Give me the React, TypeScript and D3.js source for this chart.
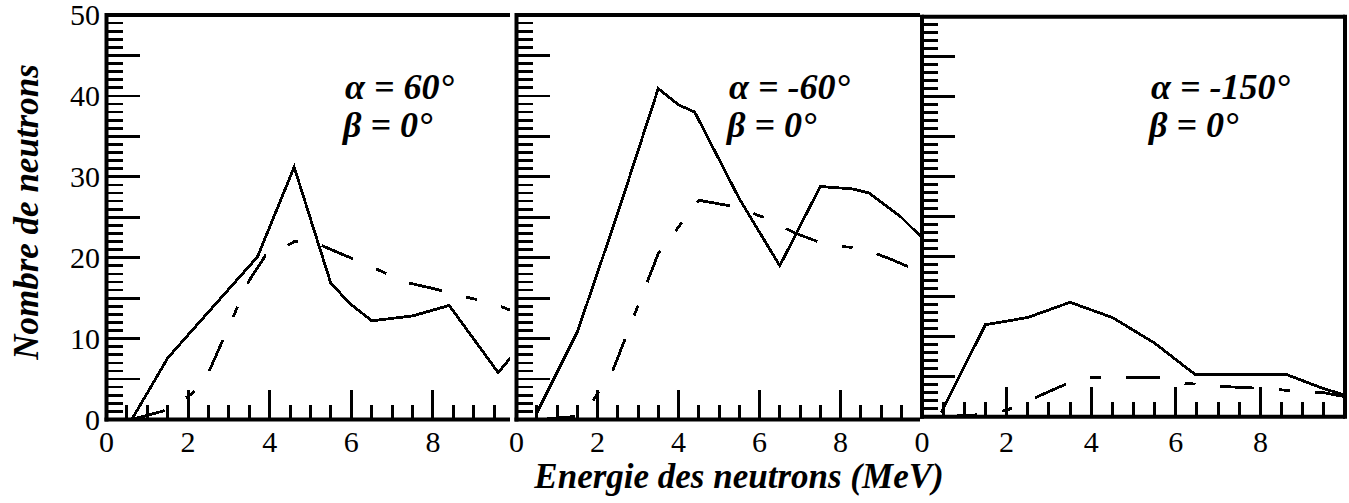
import { line, scaleLinear, range } from "d3";

const W = 1349;
const H = 503;

// energy ticks (MeV) and count ticks
const energyLabels = [0, 2, 4, 6, 8];
const countLabels = [0, 10, 20, 30, 40, 50];

// alpha = 60, beta = 0
const p1Solid: [number, number][] = [
  [0.62, 0], [1.5, 7.6], [2.5, 13.3], [3.7, 20.1], [4.6, 31.2], [5.5, 16.8],
  [6.0, 14.2], [6.5, 12.2], [7.5, 12.8], [8.4, 14.1], [9.6, 5.8], [10, 8.2],
];
const p1Dashed: [number, number][] = [
  [0.62, 0], [1.5, 1.2], [2.1, 3.2], [2.5, 5.8], [3.5, 17.2], [3.9, 20.3],
  [4.1, 20.4], [4.6, 22], [5.0, 22.1], [5.6, 20.8], [6.4, 19.1], [7.3, 17.0],
  [8.0, 16.2], [8.6, 15.4], [9.5, 14.3], [10, 13.3],
];

// alpha = -60, beta = 0
const p2Solid: [number, number][] = [
  [0.5, 0.8], [1.5, 10.8], [2.5, 25.5], [3.5, 40.9], [4.0, 38.9], [4.4, 38.0],
  [5.5, 27.3], [6.5, 19.0], [7.5, 28.8], [8.3, 28.5], [8.7, 28], [9.5, 25], [10, 22.5],
];
const p2Dashed: [number, number][] = [
  [0.6, 0], [1.5, 0.4], [1.8, 1.6], [2.0, 3.2], [2.35, 5.7], [3.5, 20.5],
  [4.5, 27.1], [5.4, 26.3], [6.2, 24.8], [6.9, 23], [7.7, 21.5], [8.5, 21.2],
  [9.2, 19.9], [9.9, 18.4], [10, 18.2],
];

// alpha = -150, beta = 0
const p3Solid: [number, number][] = [
  [0.45, 0.5], [1.5, 11.5], [2.5, 12.4], [3.5, 14.3], [4.5, 12.4], [5.5, 9.2],
  [6.45, 5.3], [8.6, 5.3], [9.5, 3.5], [10, 2.7],
];
const p3Dashed: [number, number][] = [
  [0.5, 0], [1.5, 0.3], [2.0, 0.8], [3.5, 4.3], [4.0, 4.9], [5.6, 4.9],
  [6.0, 4.3], [7.0, 3.8], [8.2, 3.5], [9.0, 3.1], [9.5, 3.0], [10, 2.5],
];

const alphas = ["α = 60°", "α = -60°", "α = -150°"];
const betas = ["β = 0°", "β = 0°", "β = 0°"];

const panels = [
  { x0: 106.5, x1: 514.5, clipL: 0, clipR: 510, yb: 419.5, yt: 15, tx: 345, solid: p1Solid, dashed: p1Dashed, right: false },
  { x0: 516.5, x1: 921.5, clipL: 510, clipR: 920, yb: 419.5, yt: 15, tx: 729, solid: p2Solid, dashed: p2Dashed, right: false },
  { x0: 922, x1: 1345, clipL: 920, clipR: 1349, yb: 416.7, yt: 16.7, tx: 1151, solid: p3Solid, dashed: p3Dashed, right: true },
];

const FONT = '"Liberation Serif"';

function Label(props: any) {
  const { bold, children, ...rest } = props;
  return (
    <text
      {...rest}
      fontFamily="Liberation Serif"
      style={{
        fontFamily: FONT,
        fontWeight: bold ? 700 : 400,
        fontStyle: bold ? "italic" : "normal",
      }}
    >
      {children}
    </text>
  );
}

export default function App() {
  const yLab = scaleLinear().domain([0, 50]).range([419.5, 15]);
  return (
    <svg width={W} height={H} style={{ position: "absolute", left: 0, top: 0 }}>
      <defs>
        {panels.map((p, i) => (
          <clipPath id={`pad${i}`} key={i}>
            <rect x={p.clipL} y={0} width={p.clipR - p.clipL} height={H} />
          </clipPath>
        ))}
      </defs>
      {panels.map((p, i) => {
        const x = scaleLinear().domain([0, 10]).range([p.x0, p.x1]);
        const y = scaleLinear().domain([0, 50]).range([p.yb, p.yt]);
        const path = line<[number, number]>()
          .x((d) => x(d[0]))
          .y((d) => y(d[1]));
        return (
          <g key={i}>
            <g clipPath={`url(#pad${i})`}>
              <path d={path(p.solid) ?? ""} fill="none" stroke="#000" strokeWidth={2.8} shapeRendering="crispEdges" />
              <path
                d={path(p.dashed) ?? ""}
                fill="none"
                stroke="#000"
                strokeWidth={2.8}
                strokeDasharray="34 25 11 25"
                shapeRendering="crispEdges"
              />
              {range(1, 20).map((k) => {
                const v = k * 0.5;
                const len = k % 4 === 0 ? 30 : 15;
                return (
                  <line key={`xt${k}`} x1={x(v)} x2={x(v)} y1={p.yb} y2={p.yb - len} stroke="#000" strokeWidth={3} shapeRendering="crispEdges" />
                );
              })}
              {range(1, 50).map((v) => {
                const len = v % 5 === 0 ? 33 : 16;
                return (
                  <line key={`yt${v}`} x1={p.x0} x2={p.x0 + len} y1={y(v)} y2={y(v)} stroke="#000" strokeWidth={2.7} shapeRendering="crispEdges" />
                );
              })}
              <line x1={p.x0} x2={p.x1} y1={p.yt} y2={p.yt} stroke="#000" strokeWidth={4} />
              <line x1={p.x0 - 2} x2={p.x1} y1={p.yb} y2={p.yb} stroke="#000" strokeWidth={4} />
              <line x1={p.x0} x2={p.x0} y1={p.yt - 2} y2={p.yb + 2} stroke="#000" strokeWidth={4} />
              {p.right && (
                <line x1={p.x1} x2={p.x1} y1={p.yt - 2} y2={p.yb + 2} stroke="#000" strokeWidth={4} />
              )}
              <Label x={p.tx} y={99} fontSize={36} bold>
                {alphas[i]}
              </Label>
              <Label x={p.tx - 2} y={137} fontSize={36} bold>
                {betas[i]}
              </Label>
            </g>
            {energyLabels.map((v) => (
              <Label key={`xl${v}`} x={x(v)} y={452} fontSize={30} textAnchor="middle">
                {v}
              </Label>
            ))}
          </g>
        );
      })}
      {countLabels.map((v) => (
        <Label key={`yl${v}`} x={100} y={yLab(v)} dy="0.34em" fontSize={30} textAnchor="end">
          {v}
        </Label>
      ))}
      <Label x={739} y={488} fontSize={35} textAnchor="middle" bold>
        Energie des neutrons (MeV)
      </Label>
      <Label transform="translate(38,212) rotate(-90)" fontSize={35} textAnchor="middle" bold>
        Nombre de neutrons
      </Label>
    </svg>
  );
}
